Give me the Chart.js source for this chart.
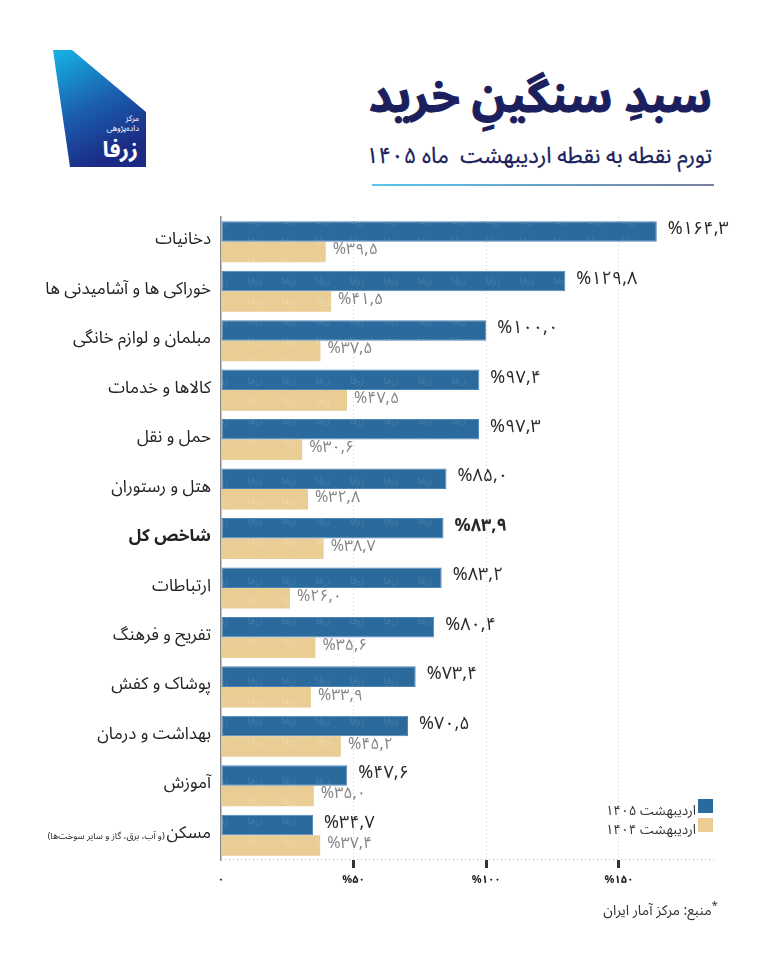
<!DOCTYPE html>
<html lang="fa">
<head>
<meta charset="utf-8">
<script src="https://cdn.jsdelivr.net/npm/chart.js@4.4.1/dist/chart.umd.min.js"></script>
<style>
  html, body { margin:0; padding:0; background:#fff; }
  #page { position:relative; width:768px; height:960px; overflow:hidden; font-family:"Noto Sans Arabic","DejaVu Sans",sans-serif; }
  .fa { direction:rtl; position:absolute; white-space:nowrap; }
  #title { right:56px; top:49px; font-size:46px; font-weight:bold; color:#1b1f5e; -webkit-text-stroke:1px #1b1f5e; }
  #subtitle { right:56px; top:133px; font-size:22px; color:#1b1f5e; -webkit-text-stroke:0.3px #1b1f5e; }
  #rule { position:absolute; left:372px; top:184px; width:342px; height:2px; background:linear-gradient(to right,#57c6ee,#7a7f9e); }
  #chartBox { position:absolute; left:0; top:190px; width:768px; height:730px; }
  .leg { right:72px; font-size:13.5px; color:#333; }
  .sw { position:absolute; width:15px; height:14px; }
  #source { right:50px; top:893px; font-size:14px; color:#333; }
</style>
</head>
<body>
<div id="page">
  <svg width="170" height="180" style="position:absolute;left:0;top:0">
    <defs>
      <linearGradient id="lg" x1="0" y1="0" x2="0.4" y2="1">
        <stop offset="0" stop-color="#17b4e4"/>
        <stop offset="0.55" stop-color="#1a5fb0"/>
        <stop offset="1" stop-color="#1b2a84"/>
      </linearGradient>
    </defs>
    <polygon points="53,50 72,50 146,112 146,167 70,167" fill="url(#lg)"/>
    <text x="139" y="121" fill="#fff" font-size="8" text-anchor="end">مرکز</text>
    <text x="139" y="131" fill="#fff" font-size="8" text-anchor="end">داده‌پژوهی</text>
    <text x="138" y="157" fill="#fff" font-size="22" font-weight="bold" text-anchor="end">زرفا</text>
  </svg>
  <div id="title" class="fa">سبدِ سنگینِ خرید</div>
  <div id="subtitle" class="fa">تورم نقطه به نقطه اردیبهشت&nbsp; ماه ۱۴۰۵</div>
  <div id="rule"></div>
  <div id="chartBox"><canvas id="chart"></canvas></div>
  <div class="sw" style="left:698px;top:799px;background:#2b6a9c"></div>
  <div class="sw" style="left:698px;top:818px;background:#e9cd94"></div>
  <div id="leg1" class="fa leg" style="top:796px"></div>
  <div id="leg2" class="fa leg" style="top:815px"></div>
  <div id="source" class="fa"><sup>*</sup>منبع: مرکز آمار ایران</div>
</div>
<script>
// chart data
const categories = ['دخانیات', 'خوراکی ها و آشامیدنی ها', 'مبلمان و لوازم خانگی', 'کالاها و خدمات', 'حمل و نقل',
  'هتل و رستوران', 'شاخص کل', 'ارتباطات', 'تفریح و فرهنگ', 'پوشاک و کفش', 'بهداشت و درمان', 'آموزش', 'مسکن'];
const maskanNote = '(و آب، برق، گاز و سایر سوخت‌ها)';
const series1405 = [164.3, 129.8, 100.0, 97.4, 97.3, 85.0, 83.9, 83.2, 80.4, 73.4, 70.5, 47.6, 34.7];
const series1404 = [39.5, 41.5, 37.5, 47.5, 30.6, 32.8, 38.7, 26.0, 35.6, 33.9, 45.2, 35.0, 37.4];
const seriesNames = ['اردیبهشت ۱۴۰۵', 'اردیبهشت ۱۴۰۴'];
const xTicks = [0, 50, 100, 150];
const boldIndex = 6; // شاخص کل

const FONT = '"Noto Sans Arabic","DejaVu Sans",sans-serif';
const fa = s => String(s).replace(/\d/g, d => '۰۱۲۳۴۵۶۷۸۹'[d]);
const pct = v => '%' + fa(v.toFixed(1)).replace('.', ',');

document.getElementById('leg1').textContent = seriesNames[0];
document.getElementById('leg2').textContent = seriesNames[1];

// faint logo watermark on bars
function makePattern(base, ink) {
    const c = document.createElement('canvas');
    c.width = 34; c.height = 20;
    const g = c.getContext('2d');
    g.fillStyle = base; g.fillRect(0, 0, 34, 20);
    g.fillStyle = ink;
    g.font = '10px ' + FONT;
    g.direction = 'rtl';
    g.textAlign = 'center';
    g.fillText('زرفا', 17, 14);
    return g.createPattern(c, 'repeat');
}
const blueFill = makePattern('#2b6a9c', 'rgba(255,255,255,0.13)');
const tanFill = makePattern('#e9cd94', 'rgba(255,255,255,0.22)');

const labelsPlugin = {
    id: 'labels',
    afterDatasetsDraw(chart) {
        const ctx = chart.ctx;
        ctx.save();
        ctx.textBaseline = 'middle';
        ctx.textAlign = 'left';
        ctx.direction = 'ltr';
        chart.data.datasets.forEach((ds, di) => {
            chart.getDatasetMeta(di).data.forEach((bar, i) => {
                if (di === 0) {
                    ctx.font = (i === boldIndex ? 'bold ' : '') + '18px ' + FONT;
                    ctx.fillStyle = '#2a2a2a';
                    ctx.fillText(pct(ds.data[i]), bar.x + 11, bar.y);
                } else {
                    ctx.font = '16px ' + FONT;
                    ctx.fillStyle = '#858585';
                    ctx.fillText(pct(ds.data[i]), bar.x + 7, bar.y);
                }
            });
        });
        ctx.restore();
    },
    afterDraw(chart) {
        const ctx = chart.ctx, y = chart.scales.y, a = chart.chartArea;
        ctx.save();
        // dotted base line
        ctx.strokeStyle = '#bbb'; ctx.lineWidth = 1; ctx.setLineDash([1, 3]);
        ctx.beginPath(); ctx.moveTo(a.left, a.bottom - 0.5); ctx.lineTo(a.right, a.bottom - 0.5); ctx.stroke();
        ctx.setLineDash([]);
        // category names
        ctx.direction = 'rtl';
        ctx.textAlign = 'right';
        ctx.textBaseline = 'middle';
        ctx.fillStyle = '#222';
        categories.forEach((c, i) => {
            const py = y.getPixelForValue(i);
            ctx.font = (i === boldIndex ? 'bold ' : '') + '17px ' + FONT;
            ctx.fillText(c, 211, py);
            if (i === categories.length - 1) {
                const w = ctx.measureText(c).width;
                ctx.font = '9px ' + FONT;
                ctx.fillText(maskanNote, 211 - w - 2, py + 2);
            }
        });
        ctx.restore();
    }
};

function initChart() {
    const ctx = document.getElementById('chart').getContext('2d');
    new Chart(ctx, {
        type: 'bar',
        data: {
            labels: categories,
            datasets: [
                { label: seriesNames[0], data: series1405, backgroundColor: blueFill, borderColor: '#4f86b8', borderWidth: 1, borderSkipped: false },
                { label: seriesNames[1], data: series1404, backgroundColor: tanFill, borderWidth: 0 }
            ]
        },
        options: {
            indexAxis: 'y',
            responsive: true,
            maintainAspectRatio: false,
            animation: false,
            categoryPercentage: 0.83,
            barPercentage: 1.0,
            layout: { padding: { left: 221, right: 51, top: 27, bottom: 30 } },
            plugins: { legend: { display: false }, tooltip: { enabled: false } },
            scales: {
                x: {
                    min: 0, max: 187,
                    afterFit: s => { s.height = 30; },
                    afterBuildTicks: s => { s.ticks = xTicks.map(v => ({ value: v })); },
                    ticks: {
                        padding: 7,
                        color: '#222',
                        font: { family: FONT, size: 11, weight: 'bold' },
                        callback: v => v === 0 ? fa(0) : '%' + fa(v)
                    },
                    grid: {
                        color: c => c.tick && c.tick.value === 0 ? 'rgba(0,0,0,0)' : '#cfcfcf',
                        lineWidth: 1,
                        drawTicks: true,
                        tickLength: 8,
                        tickWidth: 3,
                        tickColor: c => c.tick && c.tick.value === 0 ? 'rgba(0,0,0,0)' : '#333',
                        tickBorderDash: []
                    },
                    border: { display: false, dash: [1, 3] }
                },
                y: {
                    afterFit: s => { s.width = 0; },
                    ticks: { display: false },
                    grid: { display: false },
                    border: { display: true, color: '#8a8a8a', width: 1.5 }
                }
            }
        },
        plugins: [labelsPlugin]
    });
}

window.onload = () => { initChart(); };
</script>
</body>
</html>
